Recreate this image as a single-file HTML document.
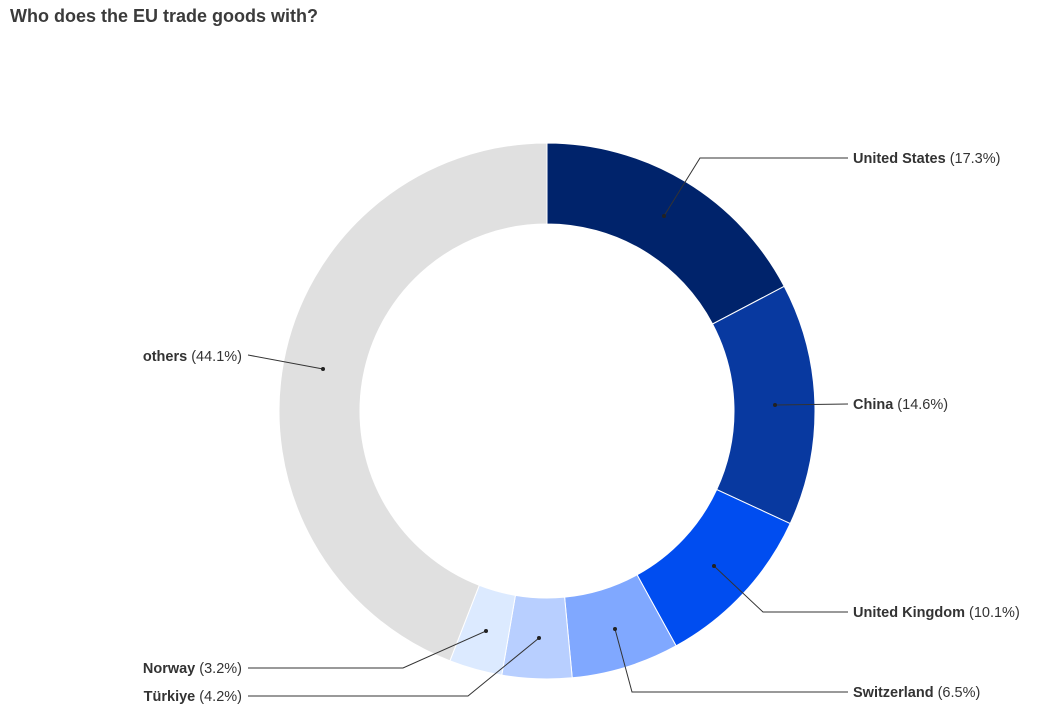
<!DOCTYPE html>
<html><head><meta charset="utf-8">
<style>
body{margin:0;background:#fff;width:1044px;height:715px;overflow:hidden;font-family:"Liberation Sans",sans-serif;}
.t{position:absolute;left:10px;top:6px;font-size:18px;font-weight:bold;color:#3b3b3b;}
svg text{font-family:"Liberation Sans",sans-serif;font-size:14.5px;fill:#333;}
</style></head><body>
<div class="t">Who does the EU trade goods with?</div>
<svg id="s" width="1044" height="715" style="position:absolute;left:0;top:0">
<g id="arcs"></g>
<g stroke="#333" stroke-width="1" fill="none">
<polyline points="664,216 700,158 848,158"/>
<polyline points="775,405 848,404"/>
<polyline points="714,566 763,612 848,612"/>
<polyline points="615,629 632,692 848,692"/>
<polyline points="539,638 468,696 248,696"/>
<polyline points="486,631 403,668 248,668"/>
<polyline points="323,369 248,355"/>
</g>
<g fill="#222">
<circle cx="664" cy="216" r="2"/><circle cx="775" cy="405" r="2"/><circle cx="714" cy="566" r="2"/>
<circle cx="615" cy="629" r="2"/><circle cx="539" cy="638" r="2"/><circle cx="486" cy="631" r="2"/><circle cx="323" cy="369" r="2"/>
</g>
<text x="853" y="163"><tspan font-weight="bold">United States</tspan> (17.3%)</text>
<text x="853" y="409"><tspan font-weight="bold">China</tspan> (14.6%)</text>
<text x="853" y="617"><tspan font-weight="bold">United Kingdom</tspan> (10.1%)</text>
<text x="853" y="697"><tspan font-weight="bold">Switzerland</tspan> (6.5%)</text>
<text x="242" y="701" text-anchor="end"><tspan font-weight="bold">Türkiye</tspan> (4.2%)</text>
<text x="242" y="673" text-anchor="end"><tspan font-weight="bold">Norway</tspan> (3.2%)</text>
<text x="242" y="361" text-anchor="end"><tspan font-weight="bold">others</tspan> (44.1%)</text>
</svg>
<script>
var cx=547,cy=411,R=268,r=187;
var d=[[17.3,"#00236b"],[14.6,"#0839a0"],[10.1,"#004df0"],[6.5,"#80a8ff"],[4.2,"#b8cfff"],[3.2,"#dceaff"],[44.1,"#e0e0e0"]];
var a=0,g=document.getElementById("arcs"),h="";
function p(rad,ang){var t=ang*Math.PI/180;return (cx+rad*Math.sin(t)).toFixed(2)+","+(cy-rad*Math.cos(t)).toFixed(2);}
d.forEach(function(s){var b=a+s[0]*3.6;var l=(b-a)>180?1:0;
h+='<path d="M'+p(R,a)+' A'+R+','+R+' 0 '+l+' 1 '+p(R,b)+' L'+p(r,b)+' A'+r+','+r+' 0 '+l+' 0 '+p(r,a)+' Z" fill="'+s[1]+'" stroke="#fff" stroke-width="1"/>';a=b;});
g.innerHTML=h;
</script>
</body></html>
